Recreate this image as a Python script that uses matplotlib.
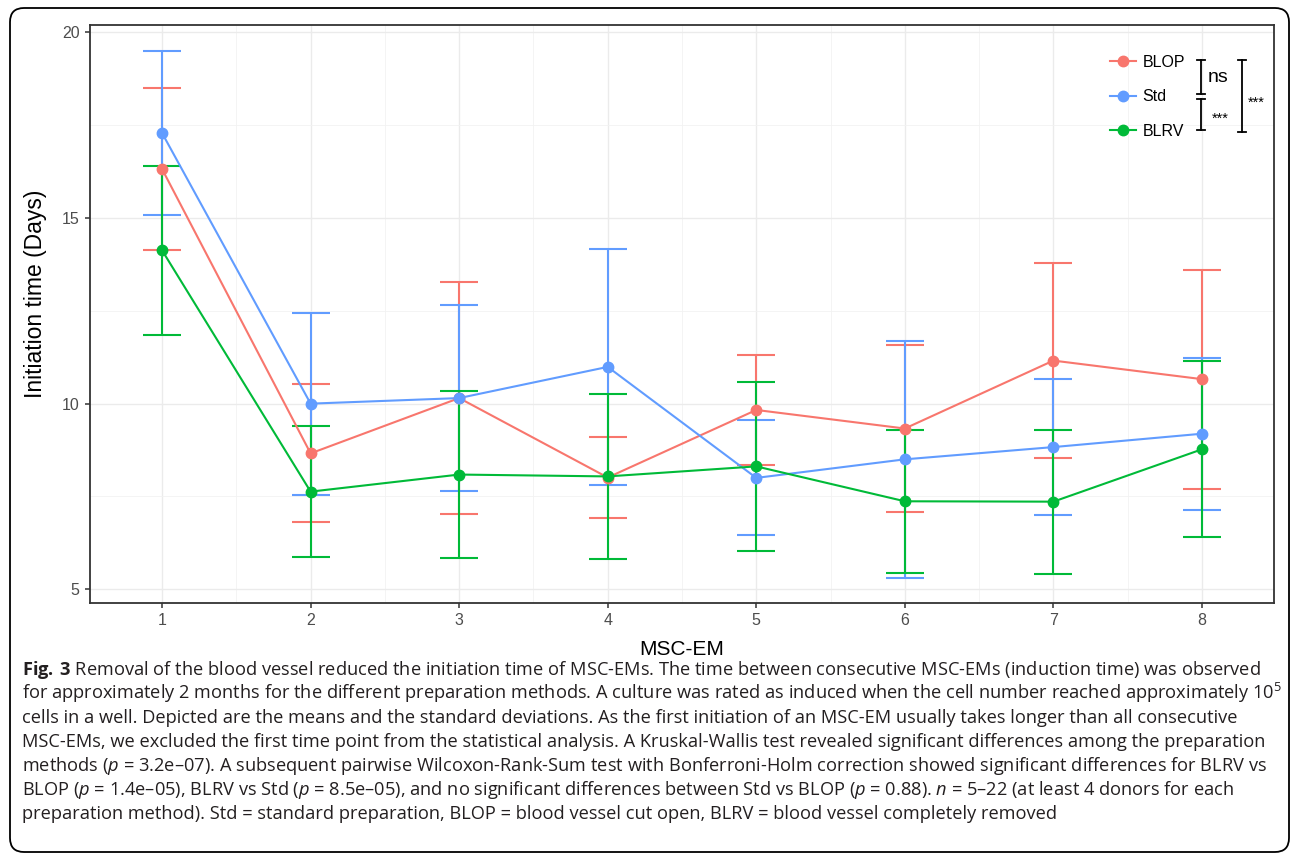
import numpy as np
import matplotlib
matplotlib.use('Agg')
import matplotlib.pyplot as plt
from matplotlib.lines import Line2D
from matplotlib.patches import FancyBboxPatch
from matplotlib.transforms import IdentityTransform

W, H = 1292, 858

msc_em = [1, 2, 3, 4, 5, 6, 7, 8]
groups = ["BLOP", "Std", "BLRV"]
colors = {"BLOP": "#F8766D", "Std": "#619CFF", "BLRV": "#00BA38"}

# means and standard deviations
blop_mean = [16.32, 8.66, 10.15, 8.01, 9.83, 9.33, 11.16, 10.66]
blop_sd = [2.17, 1.86, 3.12, 1.10, 1.47, 2.25, 2.63, 2.95]
std_mean = [17.29, 10.00, 10.15, 10.99, 8.00, 8.50, 8.83, 9.19]
std_sd = [2.21, 2.45, 2.50, 3.18, 1.55, 3.20, 1.83, 2.05]
blrv_mean = [14.13, 7.63, 8.09, 8.04, 8.31, 7.37, 7.36, 8.77]
blrv_sd = [2.27, 1.77, 2.25, 2.22, 2.27, 1.92, 1.94, 2.37]

means = {"BLOP": blop_mean, "Std": std_mean, "BLRV": blrv_mean}
sds = {"BLOP": blop_sd, "Std": std_sd, "BLRV": blrv_sd}

y_ticks = [5, 10, 15, 20]

caption = [
    r"$\mathbf{Fig.\:3}$ Removal of the blood vessel reduced the initiation time of MSC-EMs. The time between consecutive MSC-EMs (induction time) was observed",
    r"for approximately 2 months for the different preparation methods. A culture was rated as induced when the cell number reached approximately 10$^{5}$",
    "cells in a well. Depicted are the means and the standard deviations. As the first initiation of an MSC-EM usually takes longer than all consecutive",
    "MSC-EMs, we excluded the first time point from the statistical analysis. A Kruskal-Wallis test revealed significant differences among the preparation",
    r"methods ($p$ = 3.2e–07). A subsequent pairwise Wilcoxon-Rank-Sum test with Bonferroni-Holm correction showed significant differences for BLRV vs",
    r"BLOP ($p$ = 1.4e–05), BLRV vs Std ($p$ = 8.5e–05), and no significant differences between Std vs BLOP ($p$ = 0.88). $n$ = 5–22 (at least 4 donors for each",
    "preparation method). Std = standard preparation, BLOP = blood vessel cut open, BLRV = blood vessel completely removed",
]

plt.rcParams['font.family'] = ['Liberation Sans', 'DejaVu Sans']
plt.rcParams['mathtext.fontset'] = 'custom'
plt.rcParams['mathtext.rm'] = 'Open Sans'
plt.rcParams['mathtext.it'] = 'Open Sans:italic'
plt.rcParams['mathtext.bf'] = 'Open Sans:bold'


def fx(x):
    return x / W


def fy(y):
    return 1 - y / H


fig = plt.figure(figsize=(W / 100, H / 100), dpi=100)
ax = fig.add_axes([fx(90), fy(603), (1274 - 90) / W, (603 - 25) / H])

for g in groups:
    c = colors[g]
    ax.errorbar(msc_em, means[g], yerr=sds[g], fmt='none', ecolor=c,
                elinewidth=1.5, capsize=13.5, capthick=1.5, zorder=2)
for g in groups:
    ax.plot(msc_em, means[g], color=colors[g], lw=1.5, zorder=3)
for g in groups:
    ax.plot(msc_em, means[g], 'o', color=colors[g], ms=7.5, zorder=4)

ax.set_xlim(0.515, 8.485)
ax.set_ylim(4.63, 20.2)
ax.set_xticks(msc_em)
ax.set_yticks(y_ticks)
ax.set_xticks(np.arange(1.5, 8.5, 1), minor=True)
ax.set_yticks([7.5, 12.5, 17.5], minor=True)
ax.grid(True, which='major', color='#EBEBEB', lw=1.0)
ax.grid(True, which='minor', color='#F2F2F2', lw=0.6)
ax.set_axisbelow(True)
for s in ax.spines.values():
    s.set_color('#333333')
    s.set_linewidth(1.3)
ax.tick_params(which='major', length=3.5, width=1.1, color='#333333',
               labelcolor='#4D4D4D', labelsize=11.5, pad=4)
ax.tick_params(which='minor', length=0)
ax.set_xlabel("MSC-EM", fontsize=15, labelpad=8)
ax.set_ylabel("Initiation time (Days)", fontsize=16.5)
ax.yaxis.set_label_coords(-0.036, 0.535)

handles = [Line2D([], [], color=colors[g], marker='o', ms=7.5, lw=1.5) for g in groups]
ax.legend(handles, groups, loc='upper left', bbox_to_anchor=(fx(1110), fy(55)),
          bbox_transform=fig.transFigure, frameon=False, fontsize=11.5,
          handlelength=1.6, handletextpad=0.45, labelspacing=1.22,
          borderpad=0, borderaxespad=0)


def bracket(x, y0, y1, half=4):
    fig.add_artist(Line2D([fx(x), fx(x)], [fy(y0), fy(y1)], color='black', lw=1.3))
    for y in (y0, y1):
        fig.add_artist(Line2D([fx(x - half), fx(x + half)], [fy(y), fy(y)], color='black', lw=1.3))


bracket(1200.7, 60, 93.5)
bracket(1200.7, 98.5, 130)
bracket(1241.7, 60, 131.7)
fig.text(fx(1218), fy(77), "ns", fontsize=14, ha='center', va='center')
fig.text(fx(1220), fy(119), "***", fontsize=10.5, ha='center', va='center')
fig.text(fx(1256), fy(103), "***", fontsize=10.5, ha='center', va='center')

# caption: size fitted so the first line spans its width in the original
renderer = fig.canvas.get_renderer()
probe = fig.text(0, 0, caption[0], fontsize=13, family='Open Sans')
w = probe.get_window_extent(renderer).width
probe.remove()
cap_left, cap_right = 22, 1259
cap_size = 13 * (cap_right - cap_left) / w
for i, line in enumerate(caption):
    fig.text(fx(cap_left), fy(675 + 24 * i), line, fontsize=cap_size,
             family='Open Sans', color='#231F20', va='baseline', ha='left')

frame = FancyBboxPatch((10, H - 852), 1279, 844,
                       boxstyle="round,pad=0,rounding_size=14",
                       transform=IdentityTransform(), fill=False,
                       edgecolor='black', lw=1.3)
fig.add_artist(frame)

fig.savefig('out.png', dpi=100)
